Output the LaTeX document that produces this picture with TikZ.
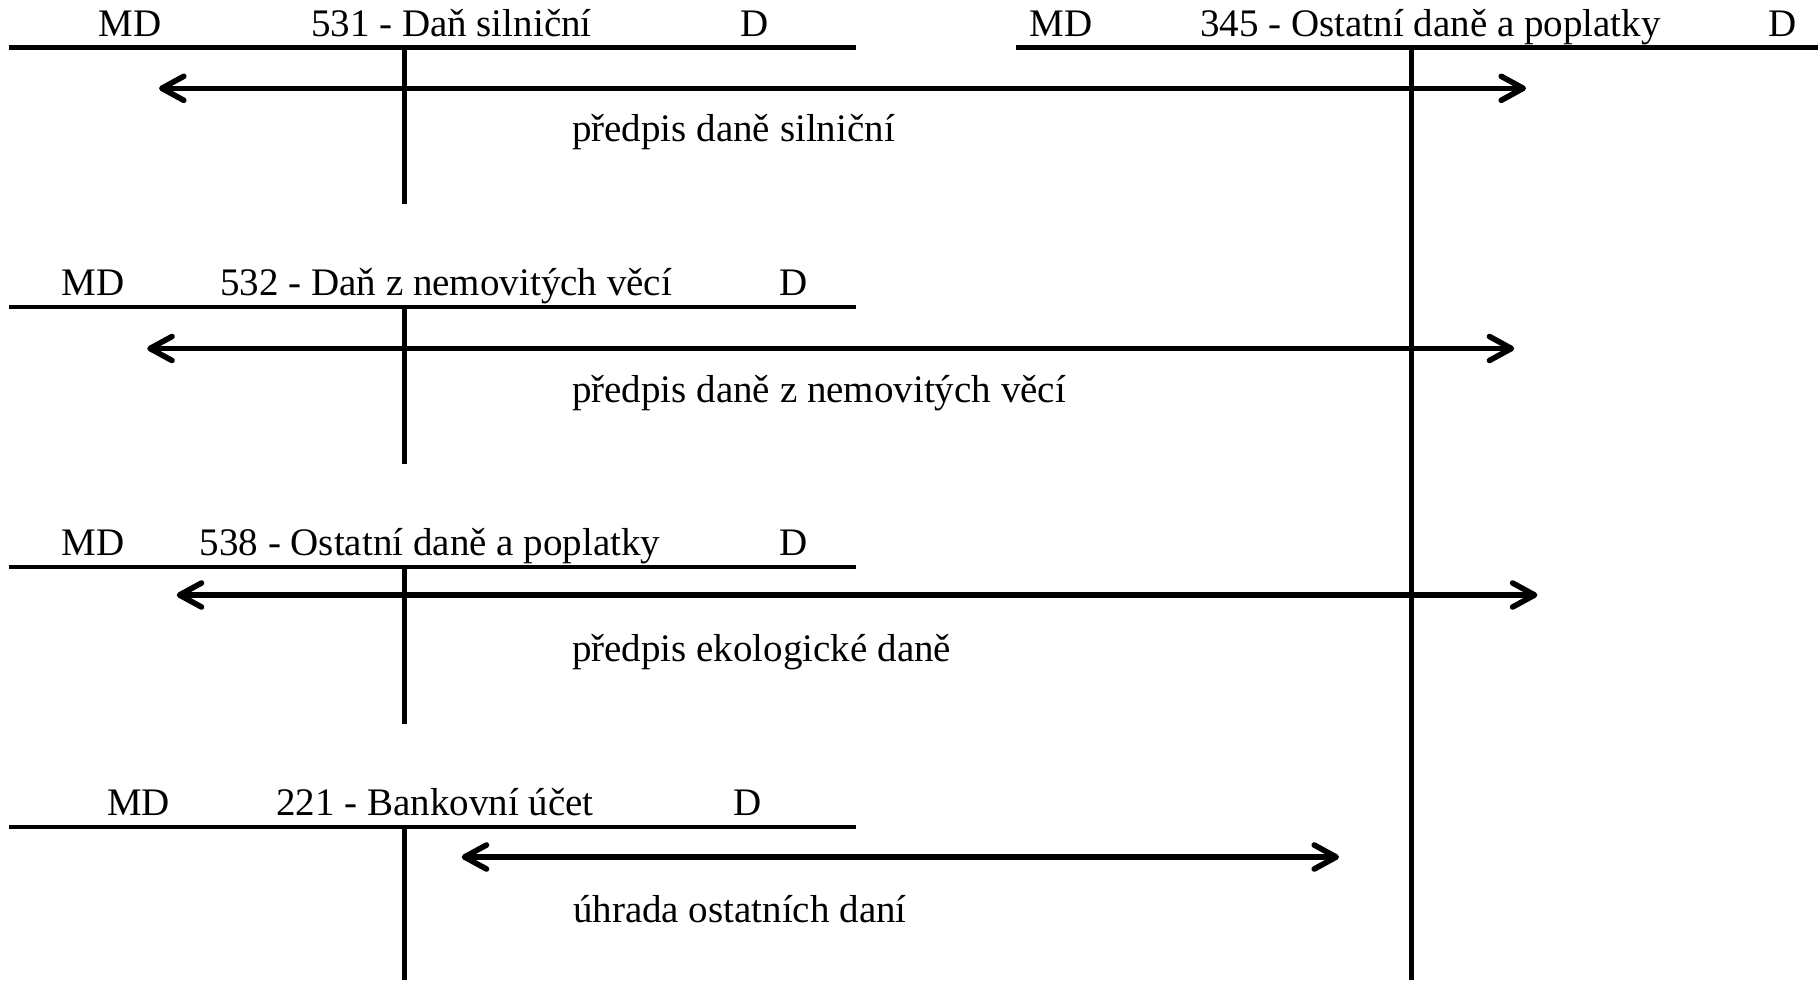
\documentclass[tikz,border=0pt]{standalone}
\usepackage{fontspec}
\setmainfont{Liberation Serif}
\usetikzlibrary{arrows.meta}
\begin{document}
\begin{tikzpicture}[x=0.5pt,y=-0.5pt,
  tline/.style={line width=2.2pt},
  barb/.tip={Straight Barb[length=11pt,width=12pt,line cap=round,line join=round]},
  flow/.style={line width=2.8pt,barb-barb},
  txt/.style={anchor=base west,inner sep=0pt,font=\fontsize{19.5}{23}\selectfont},
]
\useasboundingbox (0,0) rectangle (1818,980);

% account 531
\coordinate (a1l) at (9,47.5);   \coordinate (a1r) at (856,47.5);
\coordinate (a1t) at (404.6,47.5); \coordinate (a1b) at (404.6,204);
\draw[tline] (a1l) -- (a1r);
\draw[tline] (a1t) -- (a1b);
\node[txt] (a1md) at (98,36) {MD};
\node[txt] (a1n)  at (310.7,36) {531 - Daň silniční};
\node[txt] (a1d)  at (740,36) {D};

% account 345
\coordinate (bl) at (1015.6,47.5); \coordinate (br) at (1818,47.5);
\coordinate (bt) at (1411.5,47.5); \coordinate (bb) at (1411.5,980);
\draw[tline] (bl) -- (br);
\draw[tline] (bt) -- (bb);
\node[txt] (bmd) at (1029.5,36) {MD};
\node[txt] (bn)  at (1200,36) {345 - Ostatní daně a poplatky};
\node[txt] (bd)  at (1768,36) {D};

% account 532
\coordinate (a2l) at (9,307.2);   \coordinate (a2r) at (856,307.2);
\coordinate (a2t) at (404.6,307.2); \coordinate (a2b) at (404.6,463.8);
\draw[tline] (a2l) -- (a2r);
\draw[tline] (a2t) -- (a2b);
\node[txt] (a2md) at (61.4,295.7) {MD};
\node[txt] (a2n)  at (220,295.7) {532 - Daň z nemovitých věcí};
\node[txt] (a2d)  at (779,295.7) {D};

% account 538
\coordinate (a3l) at (9,567);   \coordinate (a3r) at (856,567);
\coordinate (a3t) at (404.6,567); \coordinate (a3b) at (404.6,723.5);
\draw[tline] (a3l) -- (a3r);
\draw[tline] (a3t) -- (a3b);
\node[txt] (a3md) at (61.4,555.5) {MD};
\node[txt] (a3n)  at (199.4,555.5) {538 - Ostatní daně a poplatky};
\node[txt] (a3d)  at (779,555.5) {D};

% account 221
\coordinate (a4l) at (9,826.7);   \coordinate (a4r) at (856,826.7);
\coordinate (a4t) at (404.6,826.7); \coordinate (a4b) at (404.6,980);
\draw[tline] (a4l) -- (a4r);
\draw[tline] (a4t) -- (a4b);
\node[txt] (a4md) at (106.7,815.2) {MD};
\node[txt] (a4n)  at (276,815.2) {221 - Bankovní účet};
\node[txt] (a4d)  at (732.8,815.2) {D};

% postings
\coordinate (f1s) at (159,88.3);   \coordinate (f1e) at (1526,88.3);
\draw[flow] (f1s) -- (f1e);
\node[txt] (f1) at (571.7,141.5) {předpis daně silniční};

\coordinate (f2s) at (147.2,348.5); \coordinate (f2e) at (1514.2,348.5);
\draw[flow] (f2s) -- (f2e);
\node[txt] (f2) at (571.7,402) {předpis daně z nemovitých věcí};

\coordinate (f3s) at (176.7,595);  \coordinate (f3e) at (1537.4,595);
\draw[flow] (f3s) -- (f3e);
\node[txt] (f3) at (571.7,661) {předpis ekologické daně};

\coordinate (f4s) at (461.7,857);  \coordinate (f4e) at (1339,857);
\draw[flow] (f4s) -- (f4e);
\node[txt] (f4) at (572.7,922.7) {úhrada ostatních daní};
\end{tikzpicture}
\end{document}
